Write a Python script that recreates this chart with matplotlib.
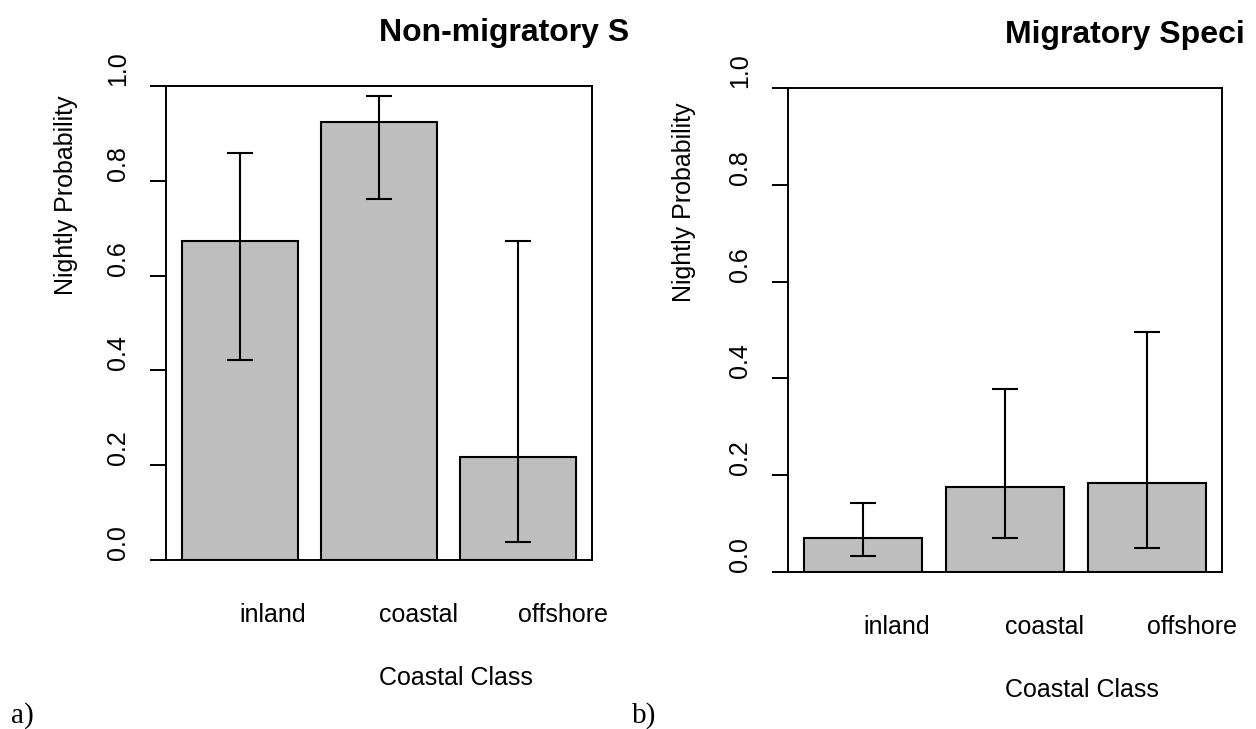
import matplotlib
matplotlib.use("Agg")
import matplotlib.pyplot as plt
from matplotlib.transforms import Bbox, TransformedBbox

W, H = 1256, 729

classes = ["inland", "coastal", "offshore"]
yticks = [0.0, 0.2, 0.4, 0.6, 0.8, 1.0]
ytick_labels = ["0.0", "0.2", "0.4", "0.6", "0.8", "1.0"]

# nightly probability with lower / upper CI
nonmig_prob = [0.672, 0.925, 0.217]
nonmig_lower = [0.421, 0.761, 0.037]
nonmig_upper = [0.858, 0.979, 0.672]

mig_prob = [0.071, 0.176, 0.184]
mig_lower = [0.034, 0.071, 0.050]
mig_upper = [0.142, 0.378, 0.495]

titles = ["Non-migratory Species", "Migratory Species"]
tags = ["a)", "b)"]

plt.rcParams['font.family'] = ['Liberation Sans', 'DejaVu Sans']

fig = plt.figure(figsize=(W / 100, H / 100), dpi=100)


def fx(x):
    return x / W


def fy(y):
    return 1 - y / H


# pixel layout: plot box (left, top, right, bottom), visible x range of the title
boxes = [(166, 86, 592, 560), (788, 88, 1222, 572)]
title_clip = [(0, 628), (628, 1246)]
tag_x = [11, 632]
centers = [0.7, 1.9, 3.1]

data = [(nonmig_prob, nonmig_lower, nonmig_upper),
        (mig_prob, mig_lower, mig_upper)]

for i, (prob, lo, hi) in enumerate(data):
    l, t, r, b = boxes[i]
    ax = fig.add_axes([fx(l), fy(b), (r - l) / W, (b - t) / H])
    ax.bar(centers, prob, width=1.0, color='#bebebe', edgecolor='black',
           linewidth=1.5)
    err = [[p - x for p, x in zip(prob, lo)], [x - p for p, x in zip(prob, hi)]]
    ax.errorbar(centers, prob, yerr=err, fmt='none', ecolor='black',
                elinewidth=1.5, capsize=9.2, capthick=1.5)
    ax.set_xlim(0.064, 3.736)
    ax.set_ylim(0, 1)
    ax.set_yticks(yticks, ytick_labels, rotation=90, va='bottom', ha='right')
    ax.tick_params(axis='y', length=11.5, width=1.4, pad=14.5, labelsize=18)
    ax.set_xticks(centers, classes, ha='left')
    ax.tick_params(axis='x', length=0, pad=31, labelsize=18)
    for s in ax.spines.values():
        s.set_linewidth(1.4)

    mid_x = (l + r) / 2
    mid_y = (t + b) / 2
    ttl = fig.text(fx(mid_x), fy(41 + 2 * i), titles[i], ha='left',
                   va='baseline', fontsize=23, fontweight='bold')
    h0, h1 = title_clip[i]
    ttl.set_clip_box(TransformedBbox(Bbox([[fx(h0), 0], [fx(h1), 1]]),
                                     fig.transFigure))
    ttl.set_clip_on(True)

    fig.text(fx(mid_x), fy(b + 125), "Coastal Class", ha='left',
             va='baseline', fontsize=18)
    fig.text(fx(l - 100 - 4 * i), fy(mid_y - 28), "Nightly Probability",
             rotation=90, ha='center', va='bottom', fontsize=18)
    fig.text(fx(tag_x[i]), fy(723), tags[i], ha='left', va='baseline',
             fontsize=21, family='Liberation Serif')

fig.savefig("out.png", dpi=100)
